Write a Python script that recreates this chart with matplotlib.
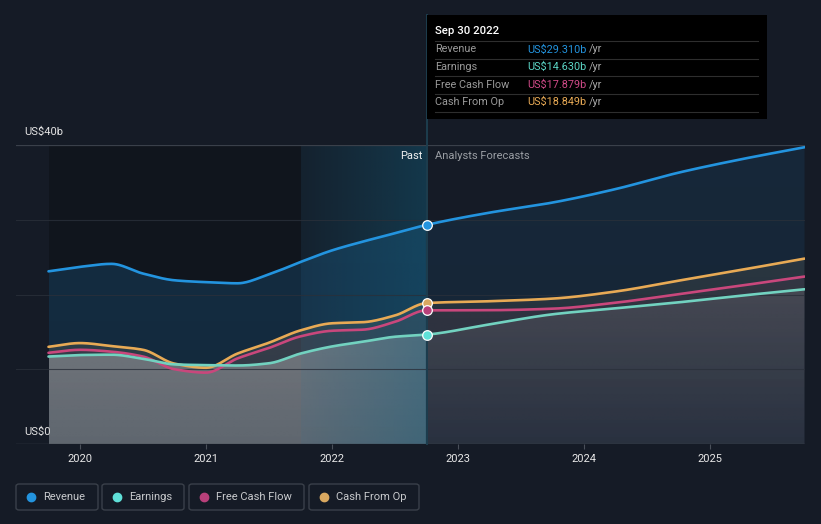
import numpy as np
import matplotlib
matplotlib.use("Agg")
import matplotlib.pyplot as plt
from matplotlib.patches import Rectangle, FancyBboxPatch
from matplotlib.colors import to_rgb

plt.rcParams['font.family'] = ['Roboto', 'DejaVu Sans']

# ---- data (US$ billions) ----
past_x = [2019.75, 2020.0, 2020.25, 2020.5, 2020.75, 2021.0, 2021.25,
          2021.5, 2021.75, 2022.0, 2022.25, 2022.5, 2022.75]
rev_past = [23.1, 23.7, 24.1, 22.8, 21.9, 21.65, 21.5, 22.7, 24.35, 25.9, 27.1, 28.2, 29.31]
earn_past = [11.7, 11.9, 11.95, 11.4, 10.65, 10.55, 10.5, 10.8, 12.1, 13.05, 13.7, 14.35, 14.63]
fcf_past = [12.2, 12.6, 12.35, 11.7, 10.0, 9.55, 11.45, 12.85, 14.4, 15.15, 15.3, 16.35, 17.879]
cfo_past = [13.0, 13.5, 13.1, 12.6, 10.75, 10.2, 12.1, 13.55, 15.2, 16.15, 16.3, 17.2, 18.849]

fc_x = [2022.75, 2023.25, 2023.75, 2024.25, 2024.75, 2025.25, 2025.75]
rev_fc = [29.31, 30.95, 32.3, 34.1, 36.3, 38.1, 39.7]
earn_fc = [14.63, 16.0, 17.35, 18.15, 18.95, 19.85, 20.7]
fcf_fc = [17.879, 17.9, 18.1, 18.9, 20.05, 21.2, 22.4]
cfo_fc = [18.849, 19.1, 19.45, 20.4, 21.85, 23.3, 24.8]

years = [2020, 2021, 2022, 2023, 2024, 2025]
now_x = 2022.75
tip_date = "Sep 30 2022"
names = ["Revenue", "Earnings", "Free Cash Flow", "Cash From Op"]
tip_vals = ["US$29.310b", "US$14.630b", "US$17.879b", "US$18.849b"]

BG = '#151b26'
REV, EARN, FCF, CFO = '#2394df', '#72d2c0', '#c9477c', '#e8aa55'
DOTS = ['#2394df', '#5fe0d8', '#b8407a', '#d9a860']
TIPC = ['#2394df', '#5cd6c6', '#d04a88', '#e8aa55']

W, H = 821, 524
fig = plt.figure(figsize=(W / 100, H / 100), dpi=100, facecolor=BG)
ax = fig.add_axes([16 / W, (H - 444) / H, (805 - 16) / W, (444 - 145) / H])
ax.set_facecolor('none')
XMIN, XMAX = 2020 + (16 - 80) / 126, 2020 + (805 - 80) / 126


def smooth(x, y, n=600):
    # monotone cubic (Fritsch-Carlson), like the d3 curve
    x = np.asarray(x, float); y = np.asarray(y, float)
    h = np.diff(x); d = np.diff(y) / h
    m = np.zeros_like(y)
    m[0], m[-1] = d[0], d[-1]
    for i in range(1, len(y) - 1):
        if d[i - 1] * d[i] <= 0:
            m[i] = 0
        else:
            w1 = 2 * h[i] + h[i - 1]; w2 = h[i] + 2 * h[i - 1]
            m[i] = (w1 + w2) / (w1 / d[i - 1] + w2 / d[i])
    xs = np.linspace(x[0], x[-1], n)
    k = np.clip(np.searchsorted(x, xs) - 1, 0, len(h) - 1)
    t = (xs - x[k]) / h[k]
    ys = ((2 * t**3 - 3 * t**2 + 1) * y[k] + (t**3 - 2 * t**2 + t) * h[k] * m[k]
          + (-2 * t**3 + 3 * t**2) * y[k + 1] + (t**3 - t**2) * h[k] * m[k + 1])
    return xs, ys


def grad_fill(xs, ys, color, a_top, a_bot, z):
    poly = ax.fill_between(xs, ys, 0, facecolor='none', edgecolor='none')
    g = np.zeros((100, 1, 4))
    g[..., :3] = to_rgb(color)
    g[:, 0, 3] = np.linspace(a_bot, a_top, 100)
    im = ax.imshow(g, extent=(xs[0], xs[-1], 0, 40), origin='lower',
                   aspect='auto', zorder=z, interpolation='bilinear')
    im.set_clip_path(poly.get_paths()[0], ax.transData)


# values, line colour, fill colour, past alphas, forecast alphas, dot colour
series = [
    (rev_past + rev_fc[1:], REV, '#2394df', (0.20, 0.16), (0.11, 0.08), DOTS[0]),
    (cfo_past + cfo_fc[1:], CFO, '#9a9070', (0.28, 0.15), (0.22, 0.05), DOTS[3]),
    (fcf_past + fcf_fc[1:], FCF, '#c9477c', (0.10, 0.04), (0.10, 0.03), DOTS[2]),
    (earn_past + earn_fc[1:], EARN, '#bcbcbc', (0.58, 0.36), (0.22, 0.06), DOTS[1]),
]
all_x = past_x + fc_x[1:]

# darker past background
ax.add_patch(Rectangle((past_x[0], 0), 2021.75 - past_x[0], 40, color='#000000',
                       alpha=0.22, lw=0, zorder=0.5))

for i, (vals, lc, fc, ap, af, dc) in enumerate(series):
    xs, ys = smooth(all_x, vals)
    p = xs <= now_x + 1e-9
    f = xs >= now_x - 1e-9
    grad_fill(xs[p], ys[p], fc, ap[0], ap[1], 1 + i * 0.1)
    grad_fill(xs[f], ys[f], fc, af[0], af[1], 1 + i * 0.1)
    ax.plot(xs, ys, color=lc, lw=1.9, zorder=3 + i * 0.01, solid_capstyle='round')

# highlight of last past year
hg = np.zeros((1, 100, 4))
hg[..., :3] = to_rgb('#12607f')
hg[0, :, 3] = np.linspace(0.10, 0.42, 100)
ax.imshow(hg, extent=(2021.75, now_x, 0, 40), origin='lower', aspect='auto',
          zorder=2, interpolation='bilinear')

# grid
for v in [10, 20, 30]:
    ax.axhline(v, color='#2a303a', lw=0.8, zorder=2.5, alpha=0.8)
ax.axhline(40, color='#3a404a', lw=0.9, zorder=2.5)
ax.axhline(0, color='#3d434c', lw=1.0, zorder=2.5)

# current marker line
ax.plot([now_x, now_x], [0, (444 - 15) / 7.475], color='#1d3d4e', lw=1.4,
        clip_on=False, zorder=2.6)

# dots
for vals, lc, fc, ap, af, dc in series:
    ax.scatter([now_x], [vals[len(past_x) - 1]], s=48, color=dc, edgecolor='white',
               linewidth=0.9, zorder=5)

ax.set_xlim(XMIN, XMAX)
ax.set_ylim(0, 40)
for s in ax.spines.values():
    s.set_visible(False)
ax.set_yticks([])
ax.set_xticks(years)
ax.set_xticklabels([str(y) for y in years])
ax.tick_params(axis='x', length=3.5, width=0.8, color='#4a505a', pad=4,
               labelsize=8, labelcolor='#e8e8e8')


def px(x, y):
    return x / W, 1 - y / H


fig.text(*px(24, 132), "US$40b", color='#e4e4e4', fontsize=8, va='center')
fig.text(*px(24, 432), "US$0", color='#e4e4e4', fontsize=8, va='center')
fig.text(*px(422, 156), "Past", color='#f0f0f0', fontsize=8, va='center', ha='right')
fig.text(*px(435, 156), "Analysts Forecasts", color='#9a9ea4', fontsize=8, va='center')

# tooltip
fig.add_artist(Rectangle(px(427, 119), 340 / W, 104 / H, transform=fig.transFigure,
                         facecolor='#000000', edgecolor='none', zorder=10))
fig.text(*px(435, 31), tip_date, color='white', fontsize=8.2, fontweight='medium',
         va='center', zorder=11)
for yy in [41, 58.5, 76, 93.5, 111.5]:
    fig.add_artist(plt.Line2D([435 / W, 758 / W], [1 - yy / H] * 2, transform=fig.transFigure,
                              color='#2e2e2e', lw=0.8, zorder=11))
renderer = fig.canvas.get_renderer()
for k, (nm, val, c) in enumerate(zip(names, tip_vals, TIPC)):
    yy = 49.5 + k * 17.5
    fig.text(*px(435, yy), nm, color='#9a9a9a', fontsize=7.8, va='center', zorder=11)
    t = fig.text(*px(527, yy), val, color=c, fontsize=7.8, va='center', zorder=11)
    bb = t.get_window_extent(renderer=renderer)
    fig.text(bb.x1 / W + 3 / W, 1 - yy / H, "/yr", color='#a8a8a8', fontsize=7.8,
             va='center', zorder=11)

# legend
leg_boxes = [(16, 98), (102, 184), (189, 304), (309, 419)]
for (x0, x1), nm, dc in zip(leg_boxes, names, DOTS):
    fig.add_artist(FancyBboxPatch(px(x0, 510), (x1 - x0) / W, 26 / H,
                                  boxstyle='round,pad=0,rounding_size=0.004',
                                  transform=fig.transFigure, facecolor='none',
                                  edgecolor='#3a404a', lw=1.0))
    fig.add_artist(plt.Line2D([(x0 + 15) / W], [1 - 497 / H], marker='o', markersize=6,
                              color=dc, transform=fig.transFigure, lw=0))
    fig.text(*px(x0 + 27, 497), nm, color='#c8cacd', fontsize=8, va='center')

fig.savefig('out.png', dpi=100, facecolor=BG)
